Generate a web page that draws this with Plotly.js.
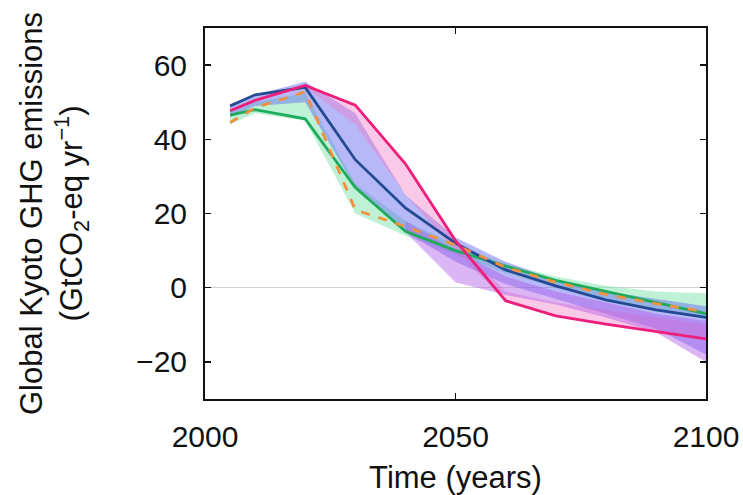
<!DOCTYPE html>
<html>
<head>
<meta charset="utf-8">
<script src="https://cdn.plot.ly/plotly-3.0.1.min.js"></script>
<style>
  html, body { margin: 0; padding: 0; background: #ffffff; }
  #chart { width: 743px; height: 495px; }
</style>
</head>
<body>
<div id="chart"></div>
<script>
// ---- data ----
const years = [2005, 2010, 2020, 2030, 2040, 2050, 2060, 2070, 2080, 2090, 2100];

const navyLine    = [49, 52, 54, 34.5, 21.5, 12, 4.8, 0.5, -3.3, -6, -8];
const greenLine   = [46.5, 48, 45.5, 27, 15.2, 10, 5.8, 2, -1, -4, -7];
const orangeLine  = [44.5, 48.5, 52.8, 21, 16.5, 11.5, 5.5, 1.5, -1.8, -4.3, -6.5];
const magentaLine = [47.7, 50.5, 54.5, 49.2, 33.4, 12.7, -3.5, -7.6, -9.8, -11.7, -13.8];

const greenBandYears = [2005, 2010, 2020, 2030, 2040, 2050, 2060, 2070, 2080, 2090, 2100];
const greenBandUpper = [48, 50, 52.5, 28, 18, 11.5, 6.5, 3, 0.5, -1, -1.5];
const greenBandLower = [44, 47, 45, 20, 14, 9, 4, 0, -3, -6, -8];

const blueBandYears = [2005, 2010, 2020, 2030, 2040, 2050, 2060, 2070, 2080, 2090, 2100];
const blueBandUpper = [49.5, 52, 55.5, 47, 25, 13.5, 7, 2, -1, -3, -5];
const blueBandLower = [46, 49, 50, 27, 15, 7, 1, -3, -7, -11, -18];

const pinkBandYears = [2020, 2030, 2040, 2050, 2060, 2070, 2080, 2090, 2100];
const pinkBandUpper = [55, 49.2, 33.4, 12.7, -1, -4, -6, -8, -10];
const pinkBandLower = [54, 44, 25, 10, -3.5, -7.6, -9.8, -11.7, -13.8];

const purpleBandYears = [2040, 2050, 2060, 2070, 2080, 2090, 2100];
const purpleBandUpper = [18, 10, 3, -1, -4, -7, -9];
const purpleBandLower = [15, 1.5, -2, -4.5, -8, -12, -20];

const xTickVals = [2000, 2050, 2100];
const yTickVals = [-20, 0, 20, 40, 60];
const yTickText = ['\u221220', '0', '20', '40', '60'];

// ---- helpers ----
function band(xs, upper, lower, color) {
  return {
    x: xs.concat(xs.slice().reverse()),
    y: upper.concat(lower.slice().reverse()),
    type: 'scatter', mode: 'lines', fill: 'toself',
    fillcolor: color, line: { width: 0 }, hoverinfo: 'skip', showlegend: false
  };
}
function line(ys, color, dash) {
  return {
    x: years, y: ys, type: 'scatter', mode: 'lines',
    line: { color: color, width: 2.8, dash: dash || 'solid' }, showlegend: false
  };
}

const traces = [
  band(greenBandYears, greenBandUpper, greenBandLower, 'rgba(110,225,165,0.45)'),
  band(blueBandYears, blueBandUpper, blueBandLower, 'rgba(100,105,240,0.47)'),
  band(pinkBandYears, pinkBandUpper, pinkBandLower, 'rgba(240,120,195,0.40)'),
  band(purpleBandYears, purpleBandUpper, purpleBandLower, 'rgba(175,90,230,0.45)'),
  line(greenLine, '#1faa5c'),
  line(navyLine, '#234a92'),
  line(orangeLine, '#f2903e', 'dash'),
  line(magentaLine, '#ee1f7b')
];

const tickFont = { family: 'Liberation Sans, Arial, sans-serif', size: 30, color: '#111111' };
const titleFont = { family: 'Liberation Sans, Arial, sans-serif', size: 31, color: '#111111' };

const layout = {
  width: 743, height: 495,
  margin: { l: 205, r: 37, t: 28, b: 96 },
  paper_bgcolor: '#ffffff', plot_bgcolor: '#ffffff',
  font: tickFont,
  showlegend: false,
  xaxis: {
    range: [2000, 2100], tickvals: xTickVals, ticktext: xTickVals.map(String),
    ticks: 'inside', ticklen: 6, tickwidth: 1.5, tickcolor: '#111',
    showline: true, linecolor: '#111', linewidth: 2, mirror: 'ticks',
    showgrid: false, zeroline: false,
    tickfont: tickFont, ticklabelstandoff: 10,
    title: { text: 'Time (years)', font: titleFont, standoff: 14 }
  },
  yaxis: {
    range: [-30, 70], tickvals: yTickVals, ticktext: yTickText,
    ticks: 'inside', ticklen: 6, tickwidth: 1.5, tickcolor: '#111',
    showline: true, linecolor: '#111', linewidth: 2, mirror: 'ticks',
    showgrid: false, zeroline: true, zerolinecolor: '#d4d4d4', zerolinewidth: 1.2,
    tickfont: tickFont, ticklabelstandoff: 10,
    title: { text: 'Global Kyoto GHG emissions<br>(GtCO<sub>2</sub>-eq yr<sup>\u22121</sup>)', font: titleFont, standoff: 44 }
  }
};

Plotly.newPlot('chart', traces, layout, { displayModeBar: false, staticPlot: true });
</script>
</body>
</html>
